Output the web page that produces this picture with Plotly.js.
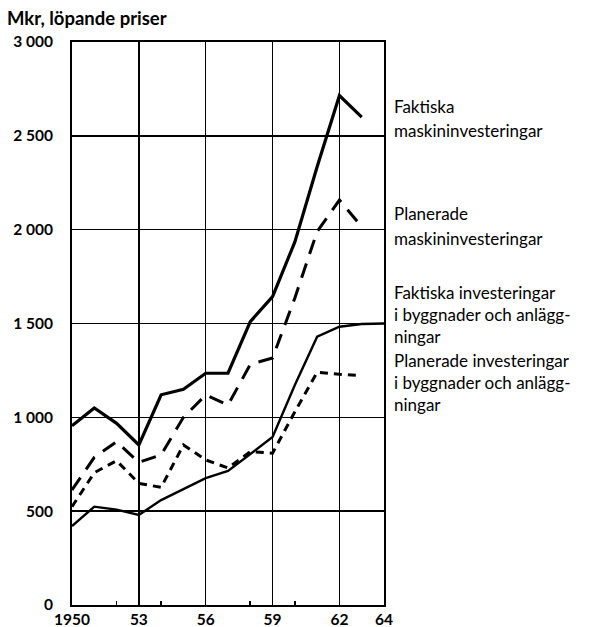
<!DOCTYPE html>
<html>
<head>
<meta charset="utf-8">
<script src="https://cdn.plot.ly/plotly-3.0.1.min.js"></script>
<style>html,body{margin:0;padding:0;background:#fff;}#chart{width:590px;height:627px;}</style>
</head>
<body>
<div id="chart"></div>
<script>
// ---- data ----
var years = [1950,1951,1952,1953,1954,1955,1956,1957,1958,1959,1960,1961,1962,1963];
var yearsBygg = [1950,1951,1952,1953,1954,1955,1956,1957,1958,1959,1960,1961,1962,1963,1964];
var faktiskaMaskin = [955,1050,968,853,1120,1150,1235,1235,1510,1643,1935,2335,2715,2600];
var planeradeMaskin = [613,787,870,760,800,1000,1119,1066,1282,1316,1636,1990,2158,2016];
var faktiskaBygg = [421,524,508,480,559,616,676,714,806,895,1172,1430,1483,1497,1500];
var planeradeBygg = [524,705,769,648,627,853,773,730,817,809,1030,1240,1229,1222];

var xTickVals = [1950,1953,1956,1959,1962,1964];
var xTickText = ["1950","53","56","59","62","64"];
var xMinorTicks = [1952,1954,1958,1960];
var yTickVals = [0,500,1000,1500,2000,2500,3000];
var yTickText = ["0","500","1 000","1 500","2 000","2 500","3 000"];

var yTitle = "Mkr, löpande priser";
var seriesLabels = [
  {text:"Faktiska", y:2655},
  {text:"maskininvesteringar", y:2531},
  {text:"Planerade", y:2087},
  {text:"maskininvesteringar", y:1954},
  {text:"Faktiska investeringar<br>i byggnader och anlägg-<br>ningar", y:1548},
  {text:"Planerade investeringar<br>i byggnader och anlägg-<br>ningar", y:1183}
];

var FONT = "Lato, 'Open Sans', sans-serif";

var traces = [
  {x: years, y: faktiskaMaskin, mode:'lines', name:'Faktiska maskininvesteringar',
   line:{color:'#000', width:3.2}},
  {x: years, y: planeradeMaskin, mode:'lines', name:'Planerade maskininvesteringar',
   line:{color:'#000', width:3, dash:'15px,10px'}},
  {x: yearsBygg, y: faktiskaBygg, mode:'lines', name:'Faktiska investeringar i byggnader och anläggningar',
   line:{color:'#000', width:2.4}},
  {x: years, y: planeradeBygg, mode:'lines', name:'Planerade investeringar i byggnader och anläggningar',
   line:{color:'#000', width:3, dash:'8px,6px'}}
];

var annotations = seriesLabels.map(function(l){
  return {xref:'paper', yref:'y', x:1.0256, y:l.y, xanchor:'left', yanchor:'middle', align:'left',
          text:l.text, showarrow:false, font:{family:FONT, size:17, color:'#000'}};
});

var layout = {
  width:590, height:627,
  margin:{l:72, r:206, t:42, b:22, pad:0},
  paper_bgcolor:'#fff', plot_bgcolor:'#fff',
  showlegend:false,
  font:{family:FONT, color:'#000'},
  title:{text:yTitle, xref:'container', yref:'container', x:7/590, xanchor:'left',
         y:1-19/627, yanchor:'middle', font:{family:FONT, size:18.5, color:'#000', weight:'bold'}},
  xaxis:{range:[1950,1964], tickmode:'array', tickvals:xTickVals, ticktext:xTickText,
         showgrid:true, gridcolor:'#000', gridwidth:1.5, zeroline:false,
         showline:true, linecolor:'#000', linewidth:1.8, mirror:true,
         ticks:'',
         tickfont:{family:FONT, size:15.5, color:'#000', weight:'bold'},
         minor:{tickmode:'array', tickvals:xMinorTicks, ticks:'inside', ticklen:4, tickwidth:1.6, tickcolor:'#000', showgrid:false},
         fixedrange:true},
  yaxis:{range:[0,3000], tickmode:'array', tickvals:yTickVals, ticktext:yTickText,
         showgrid:true, gridcolor:'#000', gridwidth:1.5, zeroline:false,
         showline:true, linecolor:'#000', linewidth:1.8, mirror:true,
         ticks:'outside', ticklen:14, tickcolor:'rgba(0,0,0,0)',
         tickfont:{family:FONT, size:15.5, color:'#000', weight:'bold'},
         fixedrange:true},
  annotations:annotations
};

Plotly.newPlot('chart', traces, layout, {displayModeBar:false, staticPlot:true});
</script>
</body>
</html>
